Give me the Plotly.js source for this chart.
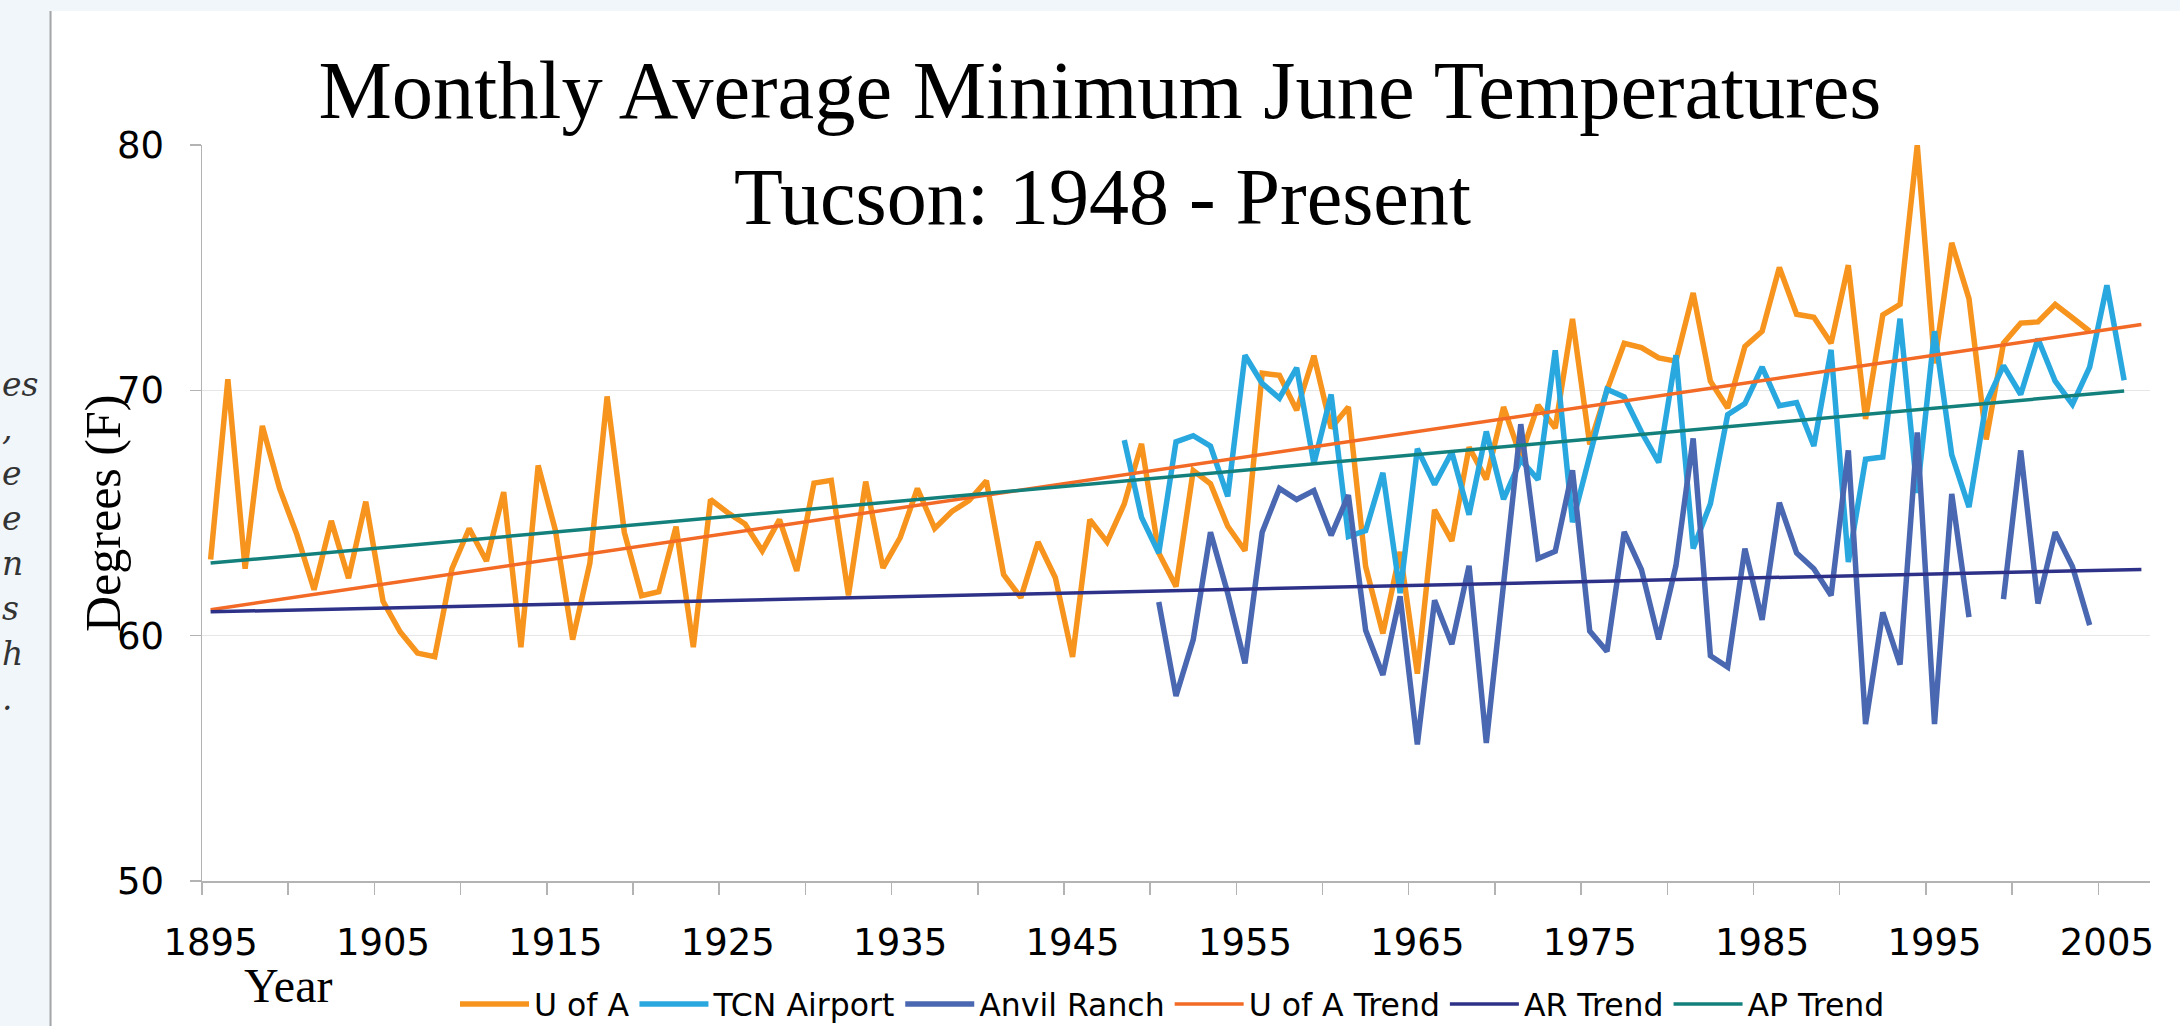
<!DOCTYPE html>
<html><head><meta charset="utf-8">
<script src="https://cdn.plot.ly/plotly-3.0.1.min.js"></script>
<style>html,body{margin:0;padding:0;background:#F1F6FB;} #chart{width:2180px;height:1026px;}</style>
</head><body><div id="chart"></div>
<script>
// Categories (years)
const years = [1895,1896,1897,1898,1899,1900,1901,1902,1903,1904,1905,1906,1907,1908,1909,1910,1911,1912,1913,1914,
1915,1916,1917,1918,1919,1920,1921,1922,1923,1924,1925,1926,1927,1928,1929,1930,1931,1932,1933,1934,
1935,1936,1937,1938,1939,1940,1941,1942,1943,1944,1945,1946,1947,1948,1949,1950,1951,1952,1953,1954,
1955,1956,1957,1958,1959,1960,1961,1962,1963,1964,1965,1966,1967,1968,1969,1970,1971,1972,1973,1974,
1975,1976,1977,1978,1979,1980,1981,1982,1983,1984,1985,1986,1987,1988,1989,1990,1991,1992,1993,1994,
1995,1996,1997,1998,1999,2000,2001,2002,2003,2004,2005,2006,2007];

// U of A, 1895-2004
const uofa = [63.1,70.45,62.73,68.55,66.0,64.13,61.87,64.68,62.34,65.46,61.4,60.15,59.29,59.14,62.73,64.37,63.04,65.85,59.53,66.94,
64.29,59.84,62.96,69.75,64.21,61.63,61.79,64.44,59.53,65.55,65.01,64.55,63.46,64.73,62.64,66.22,66.33,61.64,66.28,62.76,
64.0,66.0,64.37,65.06,65.51,66.31,62.49,61.55,63.82,62.36,59.13,64.73,63.82,65.37,67.82,63.37,62.0,66.73,66.19,64.46,
63.46,70.7,70.61,69.19,71.41,68.46,69.32,62.82,60.09,63.42,58.45,65.13,63.86,67.68,66.37,69.32,67.3,69.4,68.46,72.91,
67.8,70.0,71.92,71.74,71.32,71.19,73.97,70.37,69.28,71.79,72.41,75.01,73.1,72.98,71.92,75.1,68.83,73.07,73.5,80.0,
71.1,76.01,73.74,68.0,71.92,72.74,72.79,73.5,72.96,72.41];
const uofaStart = 1895;

// TCN Airport, 1948-2006
const tcn = [67.97,64.82,63.37,67.9,68.15,67.73,65.68,71.43,70.28,69.68,70.92,67.01,69.83,64.04,64.28,66.64,61.73,67.62,66.16,67.48,
64.93,68.32,65.56,67.17,66.36,71.63,64.62,67.3,70.04,69.73,68.3,67.06,71.43,63.55,65.38,69.01,69.46,70.95,69.37,69.5,
67.73,71.65,63.0,67.19,67.28,72.92,65.82,72.41,67.37,65.24,69.5,71.01,69.83,72.1,70.37,69.43,70.95,74.28,70.41];
const tcnStart = 1948;

// Anvil Ranch, 1950-2004 (1998 missing)
const anvil = [61.37,57.54,59.84,64.22,61.73,58.87,64.22,66.0,65.55,65.91,64.09,65.73,60.22,58.4,61.6,55.57,61.44,59.65,62.85,55.63,
62.1,68.62,63.14,63.44,66.74,60.19,59.36,64.23,62.69,59.85,62.85,68.04,59.18,58.72,63.55,60.64,65.42,63.37,62.73,61.64,
67.55,56.4,60.95,58.82,68.28,56.4,65.78,60.76,null,61.49,67.55,61.31,64.22,62.82,60.43];
const anvilStart = 1950;

// Trend lines (end points)
const uofaTrendYears = [1895, 2007];
const uofaTrend = [61.06, 72.68];
const arTrendYears = [1895, 2007];
const arTrend = [60.97, 62.70];
const apTrendYears = [1895, 2006];
const apTrend = [62.96, 69.97];

const xTickYears = [1895,1905,1915,1925,1935,1945,1955,1965,1975,1985,1995,2005];
const yTicks = [50,60,70,80];
const sideFragments = ['es', ',', 'e', 'e', 'n', 's', 'h', '.'];

function span(start, arr){ const i = years.indexOf(start); return years.slice(i, i + arr.length); }

const W = 2180, H = 1026, L = 202, R = 30, T = 145, B = 145;
const pw = W - L - R, ph = H - T - B;
const px = p => (p - L) / pw;
const py = p => (H - B - p) / ph;

const traces = [
  {x: span(uofaStart, uofa), y: uofa, name: 'U of A', mode: 'lines', line: {color: '#F7941E', width: 5.5}},
  {x: span(tcnStart, tcn), y: tcn, name: 'TCN Airport', mode: 'lines', line: {color: '#29A8E0', width: 5.5}},
  {x: span(anvilStart, anvil), y: anvil, name: 'Anvil Ranch', mode: 'lines', line: {color: '#4A67B1', width: 5.5}, connectgaps: false},
  {x: uofaTrendYears, y: uofaTrend, name: 'U of A Trend', mode: 'lines', line: {color: '#F26A25', width: 3.5}},
  {x: arTrendYears, y: arTrend, name: 'AR Trend', mode: 'lines', line: {color: '#2E3188', width: 3.5}},
  {x: apTrendYears, y: apTrend, name: 'AP Trend', mode: 'lines', line: {color: '#13807C', width: 3.5}}
];

const serif = 'Liberation Serif, Times New Roman, serif';
const sans = 'DejaVu Sans, Verdana, sans-serif';

const annotations = [
  {text: 'Tucson: 1948 - Present', xref: 'paper', yref: 'paper', x: px(1102), y: py(197), xanchor: 'center', yanchor: 'middle',
   showarrow: false, font: {family: serif, size: 80, color: '#000'}},
  {text: 'Year', xref: 'paper', yref: 'paper', x: px(288), y: py(986), xanchor: 'center', yanchor: 'middle',
   showarrow: false, font: {family: serif, size: 48, color: '#000'}},
  {text: 'Degrees (F)', xref: 'paper', yref: 'paper', x: px(103), y: py(514), xanchor: 'center', yanchor: 'middle',
   textangle: -90, showarrow: false, font: {family: serif, size: 50, color: '#000'}}
];
sideFragments.forEach((t, i) => {
  annotations.push({text: t, xref: 'paper', yref: 'paper', x: px(0), y: py(384 + 44.9 * i),
    xanchor: 'left', yanchor: 'middle', showarrow: false,
    font: {family: 'DejaVu Serif, serif', size: 33, style: 'italic', color: '#333'}});
});

const layout = {
  width: W, height: H,
  margin: {l: L, r: R, t: T, b: B, autoexpand: false},
  paper_bgcolor: '#F1F6FB',
  plot_bgcolor: '#FFFFFF',
  showlegend: true,
  title: {text: 'Monthly Average Minimum June Temperatures', font: {family: serif, size: 82.5, color: '#000'},
          xref: 'container', x: 1100 / W, xanchor: 'center', yref: 'container', y: 1 - 89 / H, yanchor: 'middle'},
  xaxis: {
    type: 'linear', range: [1894.5, 2007.5],
    tickmode: 'array', tickvals: xTickYears, ticktext: xTickYears.map(String),
    ticks: '', showgrid: false, zeroline: false,
    showline: true, linecolor: '#B3B3B3', linewidth: 1.5,
    tickfont: {family: sans, size: 37, color: '#000'},
    ticklabelstandoff: 28,
    minor: {tick0: 1894.5, dtick: 5, ticks: 'outside', ticklen: 12, tickcolor: '#B3B3B3', tickwidth: 1.5, showgrid: false}
  },
  yaxis: {
    range: [50, 80], tickmode: 'array', tickvals: yTicks, ticktext: yTicks.map(String),
    ticks: 'outside', ticklen: 11, tickcolor: '#B3B3B3', tickwidth: 1.5,
    showgrid: true, gridcolor: '#E6E6E6', gridwidth: 1.2, zeroline: false,
    showline: true, linecolor: '#B3B3B3', linewidth: 1.5,
    tickfont: {family: sans, size: 37, color: '#000'},
    ticklabelstandoff: 18
  },
  legend: {orientation: 'h', x: px(455), xanchor: 'left', y: py(1004), yanchor: 'middle',
           font: {family: sans, size: 31.5, color: '#000'}, bgcolor: 'rgba(0,0,0,0)', itemwidth: 69, traceorder: 'normal'},
  shapes: [
    {type: 'rect', xref: 'paper', yref: 'paper', x0: px(52), x1: px(W + 5), y0: py(H + 5), y1: py(11),
     fillcolor: '#FFFFFF', line: {width: 0}, layer: 'below'},
    {type: 'line', xref: 'paper', yref: 'paper', x0: px(50.5), x1: px(50.5), y0: py(H + 5), y1: py(11),
     line: {color: '#A6A6A6', width: 2}, layer: 'below'}
  ],
  annotations: annotations,
  hovermode: false
};

Plotly.newPlot('chart', traces, layout, {staticPlot: true, displayModeBar: false});
</script>
</body></html>
